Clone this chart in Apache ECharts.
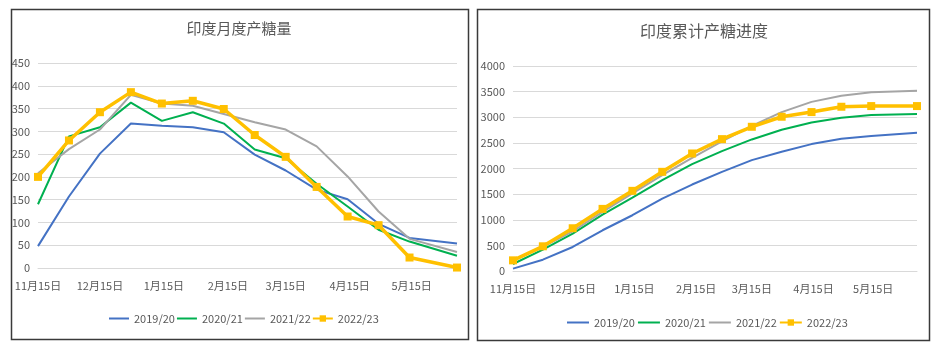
<!DOCTYPE html>
<html>
<head>
<meta charset="utf-8">
<script src="https://cdn.jsdelivr.net/npm/echarts@6/dist/echarts.min.js"></script>
<style>
html,body{margin:0;padding:0;background:#fff;}
#c{width:936px;height:350px;}
</style>
</head>
<body>
<div id="c"></div>
<script>
// ---- data ----
const seriesNames = ['2019/20', '2020/21', '2021/22', '2022/23'];
const pointDates = ['2022-11-15','2022-11-30','2022-12-15','2022-12-30','2023-01-14','2023-01-29','2023-02-13','2023-02-28','2023-03-15','2023-03-30','2023-04-14','2023-04-29','2023-05-14','2023-06-06'];
const labelDates = ['2022-11-15','2022-12-15','2023-01-15','2023-02-15','2023-03-15','2023-04-15','2023-05-15'];
const labelTexts = ['11月15日','12月15日','1月15日','2月15日','3月15日','4月15日','5月15日'];

// half-month production
const monthly2019 = [48, 157, 251, 317, 312, 309, 298, 249, 214, 172, 151, 97, 66, 54];
const monthly2020 = [140, 289, 309, 363, 323, 342, 317, 260, 241, 185, 135, 84, 58, 27];
const monthly2021 = [208, 261, 304, 380, 361, 356, 338, 320, 304, 267, 201, 124, 64, 35];
const monthly2022 = [200, 280, 342, 386, 361, 367, 349, 292, 244, 178, 113, 94, 23, 1];

// cumulative production
const cum2019 = [46, 221, 469, 795, 1088, 1414, 1687, 1935, 2163, 2326, 2476, 2580, 2632, 2697];
const cum2020 = [137, 417, 730, 1101, 1433, 1772, 2085, 2339, 2567, 2756, 2899, 2990, 3042, 3062];
const cum2021 = [208, 469, 773, 1153, 1514, 1870, 2208, 2528, 2832, 3099, 3300, 3420, 3488, 3518];
const cum2022 = [208, 482, 834, 1212, 1564, 1935, 2293, 2573, 2814, 3010, 3101, 3205, 3218, 3218];

const leftTicks = [0, 450, 50];
const rightTicks = [0, 4000, 500];

// ---- helpers ----
const DAY = 86400000;
const t0 = Date.parse(pointDates[0]);
const dayOf = d => Math.round((Date.parse(d) - t0) / DAY);
const xDays = pointDates.map(dayOf);
const labelMap = {};
labelDates.forEach((d, i) => { labelMap[dayOf(d)] = labelTexts[i]; });
const xMax = xDays[xDays.length - 1];

const colors = ['#4472C4', '#00B050', '#A5A5A5', '#FFC000'];
const FONT = "'Noto Sans CJK SC','Liberation Sans',sans-serif";
const TXT = '#595959';

function pairs(vals) { return vals.map((v, i) => [xDays[i], v]); }

function mkSeries(arrs, idx, suffix) {
  return arrs.map((a, i) => ({
    name: seriesNames[i] + suffix,
    type: 'line',
    xAxisIndex: idx, yAxisIndex: idx,
    data: pairs(a),
    symbol: i === 3 ? 'rect' : 'none',
    symbolSize: 8,
    showSymbol: i === 3,
    lineStyle: { width: i === 3 ? 3.5 : 2, color: colors[i] },
    itemStyle: { color: colors[i] },
    z: i === 3 ? 5 : 2,
    animation: false
  }));
}

function xAxisCfg(grid) {
  return {
    type: 'value', gridIndex: grid, min: 0, max: xMax, interval: 1,
    axisLine: { show: true, lineStyle: { color: '#D9D9D9', width: 1 } },
    axisTick: { show: false },
    splitLine: { show: false },
    axisLabel: {
      color: TXT, fontFamily: FONT, fontSize: 11, margin: 12,
      showMinLabel: true, showMaxLabel: false,
      formatter: v => labelMap[v] || ''
    }
  };
}
function yAxisCfg(grid, t) {
  return {
    type: 'value', gridIndex: grid, min: t[0], max: t[1], interval: t[2],
    axisLine: { show: false }, axisTick: { show: false },
    splitLine: { lineStyle: { color: '#D9D9D9', width: 1 } },
    axisLabel: { color: TXT, fontFamily: FONT, fontSize: 11, margin: 8, formatter: v => String(v) }
  };
}

function legendData(suffix) {
  return seriesNames.map((n, i) => i === 3 ? { name: n + suffix } : { name: n + suffix, itemStyle: { opacity: 0 } });
}

const chart = echarts.init(document.getElementById('c'), null, { renderer: 'canvas' });
chart.setOption({
  animation: false,
  color: colors,
  title: [
    { text: '印度月度产糖量', left: 239, top: 21, textAlign: 'center', padding: 0,
      textStyle: { color: TXT, fontSize: 15, fontWeight: 'normal', fontFamily: "'Noto Sans CJK SC',sans-serif" } },
    { text: '印度累计产糖进度', left: 704, top: 23, textAlign: 'center', padding: 0,
      textStyle: { color: TXT, fontSize: 16, fontWeight: 'normal', fontFamily: "'Noto Sans CJK SC',sans-serif" } }
  ],
  legend: [
    { data: legendData(''), left: 108, top: 313, padding: 0, itemGap: 1, itemWidth: 20, itemHeight: 8,
      formatter: n => n.trim(),
      textStyle: { color: TXT, fontFamily: FONT, fontSize: 11 }, selectedMode: false },
    { data: legendData(' '), left: 566, top: 317, padding: 0, itemGap: 2, itemWidth: 22, itemHeight: 8,
      formatter: n => n.trim(),
      textStyle: { color: TXT, fontFamily: FONT, fontSize: 11 }, selectedMode: false }
  ],
  grid: [
    { left: 38, top: 63, width: 419, height: 205 },
    { left: 513, top: 66, width: 404, height: 205 }
  ],
  xAxis: [xAxisCfg(0), xAxisCfg(1)],
  yAxis: [yAxisCfg(0, leftTicks), yAxisCfg(1, rightTicks)],
  series: [
    ...mkSeries([monthly2019, monthly2020, monthly2021, monthly2022], 0, ''),
    ...mkSeries([cum2019, cum2020, cum2021, cum2022], 1, ' ')
  ],
  graphic: [
    { type: 'rect', shape: { x: 11.5, y: 9.5, width: 457, height: 330 }, style: { fill: 'none', stroke: '#3a3a3a', lineWidth: 1.5 }, silent: true },
    { type: 'rect', shape: { x: 477.5, y: 9.5, width: 452, height: 331 }, style: { fill: 'none', stroke: '#3a3a3a', lineWidth: 1.5 }, silent: true }
  ]
});
</script>
</body>
</html>
